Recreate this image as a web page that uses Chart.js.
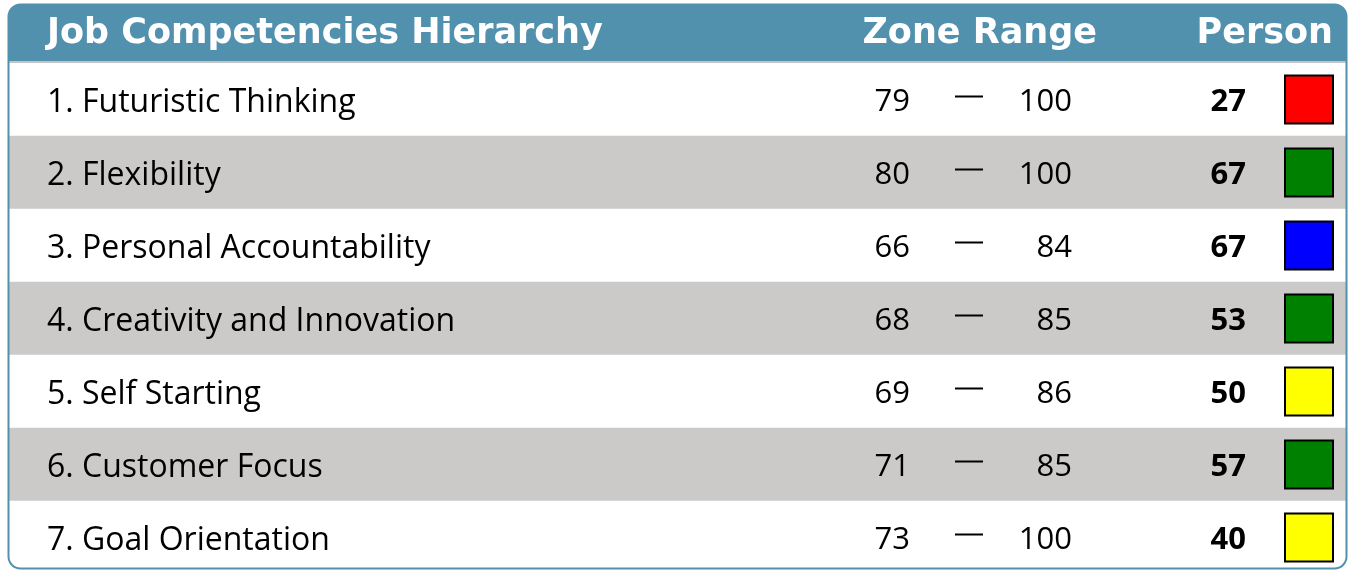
<!DOCTYPE html>
<html>
<head>
<meta charset="utf-8">
<script src="https://cdn.jsdelivr.net/npm/chart.js@4"></script>
<style>
  html, body { margin: 0; padding: 0; background: #fff; overflow: hidden; }
  #wrap { width: 1351px; height: 580px; }
</style>
</head>
<body>
<div id="wrap"><canvas id="tableChart" width="1351" height="580"></canvas></div>
<script>
// 표 데이터
const competencies = [
  'Futuristic Thinking',
  'Flexibility',
  'Personal Accountability',
  'Creativity and Innovation',
  'Self Starting',
  'Customer Focus',
  'Goal Orientation'
];
const zoneLow = [79, 80, 66, 68, 69, 71, 73];
const zoneHigh = [100, 100, 84, 85, 86, 85, 100];
const personScores = [27, 67, 67, 53, 50, 57, 40];
const scoreColors = ['#ff0000', '#008000', '#0000ff', '#008000', '#ffff00', '#008000', '#ffff00'];
const headers = ['Job Competencies Hierarchy', 'Zone Range', 'Person'];

const headerBlue = '#5291ae';
const rowGrey = '#cbcac9';
const bodyFont = '"Open Sans", "Noto Sans", sans-serif';
const headFont = '"DejaVu Sans", sans-serif';

// 둥근 테두리 박스
function roundRect(ctx, x, y, w, h, r) {
  ctx.beginPath();
  ctx.moveTo(x + r, y);
  ctx.lineTo(x + w - r, y);
  ctx.arcTo(x + w, y, x + w, y + r, r);
  ctx.lineTo(x + w, y + h - r);
  ctx.arcTo(x + w, y + h, x + w - r, y + h, r);
  ctx.lineTo(x + r, y + h);
  ctx.arcTo(x, y + h, x, y + h - r, r);
  ctx.lineTo(x, y + r);
  ctx.arcTo(x, y, x + r, y, r);
  ctx.closePath();
}

const box = { x: 8.5, y: 4.5, w: 1338, h: 564, r: 12 };

const tablePlugin = {
  id: 'tablePlugin',
  beforeDraw(chart) {
    const ctx = chart.ctx;
    ctx.save();
    roundRect(ctx, box.x, box.y, box.w, box.h, box.r);
    ctx.fillStyle = '#ffffff';
    ctx.fill();
    ctx.clip();
    // 헤더 배경
    ctx.fillStyle = headerBlue;
    ctx.fillRect(box.x, box.y, box.w, chart.chartArea.top - box.y - 2);
    ctx.fillStyle = '#c4c4c4';
    ctx.fillRect(box.x, chart.chartArea.top - 2, box.w, 2);
    ctx.restore();
  },
  afterDraw(chart) {
    const ctx = chart.ctx;
    const yScale = chart.scales.y;
    ctx.save();
    // 헤더 텍스트
    ctx.fillStyle = '#ffffff';
    ctx.font = 'bold 35px ' + headFont;
    ctx.textBaseline = 'middle';
    ctx.textAlign = 'left';
    ctx.fillText(headers[0], 47, 34);
    ctx.textAlign = 'right';
    ctx.fillText(headers[1], 1097, 34);
    ctx.fillText(headers[2], 1333, 34);

    // 행 텍스트와 색상 박스
    competencies.forEach((name, i) => {
      const cy = yScale.getPixelForValue(i);
      ctx.fillStyle = '#000000';
      ctx.font = '32px ' + bodyFont;
      ctx.textAlign = 'left';
      ctx.fillText((i + 1) + '. ' + name, 47, cy + 3);
      ctx.font = '31px ' + bodyFont;
      ctx.textAlign = 'right';
      ctx.fillText(String(zoneLow[i]), 910, cy + 3);
      ctx.fillText(String(zoneHigh[i]), 1072, cy + 3);
      ctx.fillRect(955, cy - 4, 28, 2);
      ctx.font = 'bold 31px ' + bodyFont;
      ctx.fillText(String(personScores[i]), 1246, cy + 3);

      ctx.fillStyle = scoreColors[i];
      ctx.fillRect(1285, cy - 24, 48, 48);
      ctx.strokeStyle = '#000000';
      ctx.lineWidth = 2;
      ctx.strokeRect(1285, cy - 24, 48, 48);
    });

    // 바깥 테두리
    roundRect(ctx, box.x, box.y, box.w, box.h, box.r);
    ctx.strokeStyle = headerBlue;
    ctx.lineWidth = 2;
    ctx.stroke();
    ctx.restore();
  }
};

// 행 배경은 가로 막대로 그림
const rowBars = competencies.map(() => [0, 1]);
const rowColors = competencies.map((_, i) => (i % 2 === 0 ? '#ffffff' : rowGrey));

new Chart(document.getElementById('tableChart').getContext('2d'), {
  type: 'bar',
  data: {
    labels: competencies,
    datasets: [{
      data: rowBars,
      backgroundColor: rowColors,
      borderWidth: 0,
      barPercentage: 1,
      categoryPercentage: 1
    }]
  },
  options: {
    indexAxis: 'y',
    responsive: false,
    animation: false,
    devicePixelRatio: 1,
    layout: { padding: { left: 9, right: 4, top: 63, bottom: 6 } },
    plugins: { legend: { display: false }, tooltip: { enabled: false } },
    scales: {
      x: { display: false, min: 0, max: 1 },
      y: { display: false }
    }
  },
  plugins: [tablePlugin]
});
</script>
</body>
</html>
